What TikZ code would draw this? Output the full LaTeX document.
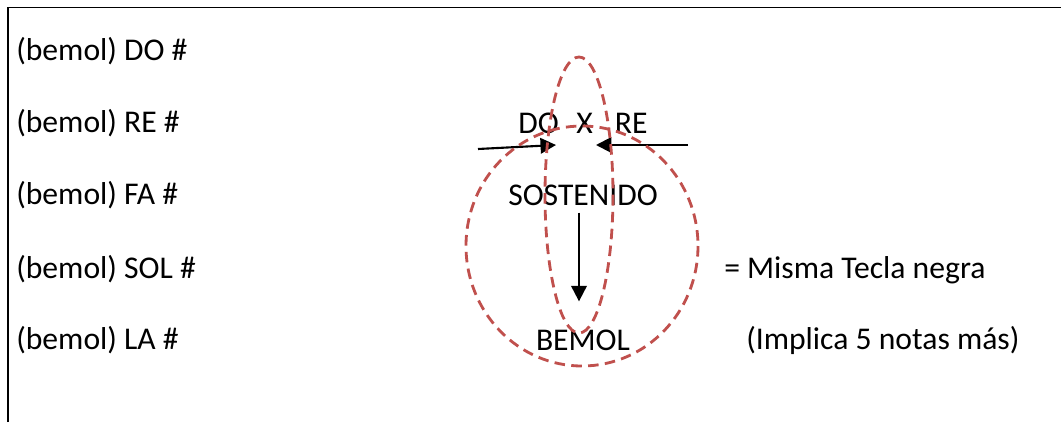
\documentclass[tikz,border=0pt]{standalone}
\usepackage{fontspec}
\setmainfont{Carlito}
\usepackage{tikz}
\usetikzlibrary{arrows.meta, positioning, calc}
\definecolor{notered}{RGB}{192,80,77}
\tikzset{
  notetext/.style={
    font=\fontsize{22.5}{26}\selectfont, inner sep=0pt, anchor=west
  },
  midtext/.style={
    font=\fontsize{22.5}{26}\selectfont, inner sep=0pt
  },
  arrow/.style={
    -{Triangle[length=11pt, width=11pt]}, line width=1.5pt
  },
  ring/.style={
    draw=notered, dash pattern=on 7.5pt off 4.5pt, line width=2pt
  },
}

\begin{document}
\begin{tikzpicture}[x=0.025cm, y=-0.025cm]

  \useasboundingbox (0,0) rectangle (1061,422);

  %%% Frame (open at bottom and right) %%%
  \draw[line width=1.2pt] (8,422) -- (8,7.5) -- (1061,7.5);

  %%% Left column %%%
  \node[notetext] (do)  at (16,51)  {(bemol) DO \#};
  \node[notetext] (re)  at (16,123) {(bemol) RE \#};
  \node[notetext] (fa)  at (16,195) {(bemol) FA \#};
  \node[notetext] (sol) at (16,269) {(bemol) SOL \#};
  \node[notetext] (la)  at (16,340) {(bemol) LA \#};

  %%% Centre %%%
  \node[midtext] (dox) at (583,123) {DO\hspace{0.55em}X\hspace{0.7em}RE};
  \node[midtext] (sost) at (583,195) {SOSTENIDO};
  \node[midtext] (bemol) at (583,340) {BEMOL};

  %%% Right column %%%
  \node[notetext] (misma) at (724,270) {= Misma Tecla negra};
  \node[notetext] (impl)  at (746,340) {(Implica 5 notas más)};

  %%% Arrows %%%
  \coordinate (lft) at (478,149);
  \coordinate (lftip) at (556,145);
  \coordinate (rgt) at (688,145);
  \coordinate (rgtip) at (596,145);
  \draw[arrow] (lft) -- (lftip);
  \draw[arrow] (rgt) -- (rgtip);
  \draw[arrow] ($(sost.south)+(-4,7)$) -- ($(bemol.north)+(-4,-28)$);

  %%% Dashed rings %%%
  \draw[ring] (582,246) ellipse [x radius=116, y radius=120];
  \draw[ring] (579,195) ellipse [x radius=34, y radius=138];

\end{tikzpicture}
\end{document}
